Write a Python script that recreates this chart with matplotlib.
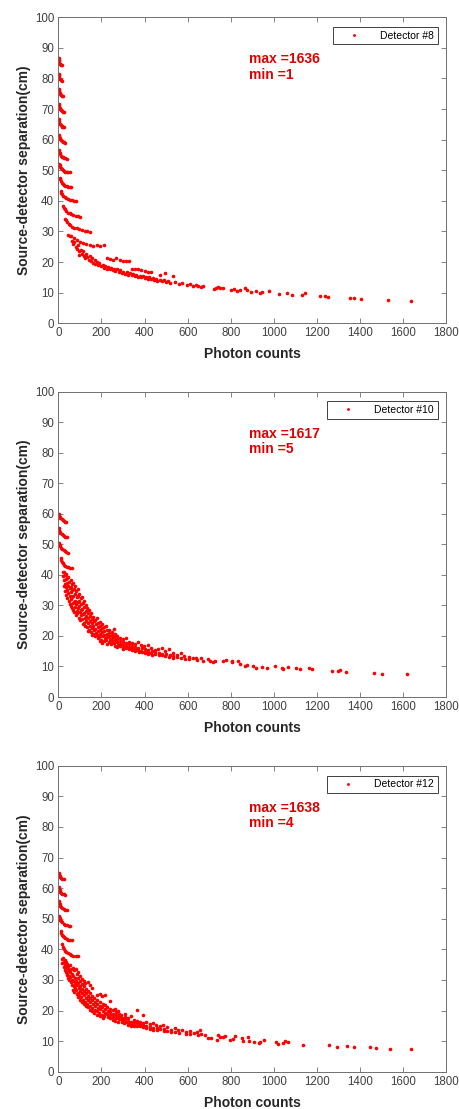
import numpy as np
import matplotlib
matplotlib.use('Agg')
import matplotlib.pyplot as plt

plt.rcParams['font.family'] = ['Liberation Sans', 'DejaVu Sans']

# ---- Detector #8 : [photon counts, separation cm] ----
det8_bands = [
    [1, 86.6], [2, 86.1], [3, 85.6], [5, 85.2], [7, 84.9], [10, 84.6], [13, 84.4], [15, 84.3],
    [1, 81.6], [2, 81.1], [3, 80.7], [5, 80.3], [8, 79.9], [11, 79.6], [14, 79.4], [17, 79.3],
    [1, 76.7], [2, 76.2], [4, 75.8], [6, 75.3], [9, 74.9], [12, 74.6], [16, 74.4], [20, 74.2],
    [1, 71.7], [2, 71.2], [4, 70.7], [7, 70.3], [10, 69.9], [14, 69.6], [18, 69.4], [22, 69.2], [25, 69.1],
    [1, 66.6], [3, 66.1], [5, 65.6], [8, 65.1], [11, 64.8], [15, 64.5], [19, 64.3], [23, 64.1], [26, 64.0],
    [2, 61.6], [4, 61.1], [6, 60.6], [9, 60.1], [12, 59.8], [16, 59.5], [20, 59.3], [25, 59.1], [30, 59.0],
    [3, 56.6], [5, 56.1], [7, 55.6], [10, 55.2], [14, 54.8], [18, 54.5], [23, 54.3], [28, 54.1], [33, 53.9], [38, 53.8],
    [4, 52.2], [6, 51.7], [9, 51.1], [12, 50.7], [16, 50.3], [21, 50.0], [26, 49.8], [32, 49.6], [38, 49.5], [45, 49.4], [52, 49.3],
    [6, 47.6], [8, 47.0], [11, 46.5], [15, 46.0], [20, 45.6], [26, 45.3], [32, 45.0], [39, 44.8], [46, 44.6], [54, 44.5], [60, 44.4],
    [11, 43.3], [14, 42.7], [18, 42.1], [23, 41.6], [29, 41.2], [36, 40.9], [44, 40.6], [53, 40.4], [62, 40.2], [72, 40.1], [83, 40.0],
    [22, 38.4], [26, 37.8], [31, 37.2], [37, 36.7], [44, 36.2], [52, 35.9], [61, 35.6], [70, 35.3], [80, 35.1], [91, 34.9], [102, 34.8],
    [30, 34.2], [35, 33.6], [41, 33.0], [48, 32.5], [56, 32.0], [65, 31.6], [75, 31.3], [86, 31.0], [98, 30.7], [110, 30.5],
    [122, 30.3], [135, 30.1], [147, 29.9],
]
det8_cloud = [
    [45, 29.0], [58, 28.4], [72, 27.8], [86, 27.2], [100, 26.7], [115, 26.2], [130, 25.9], [145, 25.6], [160, 25.4],
    [178, 25.6], [195, 25.3], [212, 25.5], [225, 21.4], [240, 21.0], [255, 20.8], [268, 21.2], [285, 20.6], [300, 20.4],
    [315, 20.5], [330, 20.3], [340, 17.9], [355, 17.6], [370, 17.8], [385, 17.3], [400, 17.1], [415, 16.9], [430, 16.8],
    [470, 15.9], [495, 16.4], [530, 15.6],
    [55, 28.5], [62, 27.0], [68, 25.8], [75, 26.5], [80, 25.0], [88, 24.2], [92, 25.6], [98, 23.5], [98, 22.3],
    [105, 24.0], [110, 22.8], [115, 23.6], [120, 22.0], [125, 21.2], [130, 22.5], [135, 21.6], [140, 20.8], [145, 22.0],
    [150, 20.2], [155, 21.3], [160, 19.8], [168, 20.6], [172, 19.3], [178, 20.0], [185, 18.9], [190, 19.6], [198, 18.6],
    [205, 19.2], [210, 18.2], [218, 18.8], [225, 17.9], [230, 18.5], [238, 17.6], [245, 18.2], [252, 17.3], [258, 17.9],
    [265, 17.0], [272, 17.6], [280, 16.8], [288, 17.3], [295, 16.5], [302, 16.9], [310, 16.2], [318, 16.7], [325, 15.9],
    [332, 16.4], [340, 15.7], [348, 16.0], [355, 15.4], [362, 15.8], [370, 15.2], [378, 15.6], [385, 15.0], [392, 15.4],
    [400, 14.8], [408, 15.2], [415, 14.6], [422, 15.0], [430, 14.4], [438, 14.7], [445, 14.2], [452, 14.5], [460, 13.9],
    [470, 14.2], [480, 13.8], [490, 14.1], [500, 13.5], [510, 13.8],
]
det8_tail = [
    [520, 13.3], [540, 13.6], [560, 12.9], [575, 13.2], [595, 12.4], [610, 12.8], [625, 12.2], [640, 12.6], [650, 12.1],
    [660, 11.8], [672, 12.3], [720, 11.1], [730, 11.6], [740, 12.0], [752, 11.4], [765, 11.6], [800, 10.9], [815, 11.2],
    [830, 10.6], [843, 11.0], [868, 11.5], [875, 10.8], [895, 10.2], [915, 10.4], [935, 9.9], [944, 10.2], [978, 10.4],
    [1022, 9.6], [1060, 10.0], [1084, 9.3], [1132, 9.4], [1146, 9.8], [1216, 8.9], [1238, 8.9], [1250, 8.6],
    [1352, 8.4], [1372, 8.3], [1406, 7.9], [1528, 7.5], [1636, 7.3],
]

# ---- Detector #10 ----
det10_bands = [
    [1, 59.9], [3, 59.4], [6, 59.0], [10, 58.6], [15, 58.2], [20, 57.9], [26, 57.6], [32, 57.4], [37, 57.3],
    [1, 55.2], [3, 54.7], [6, 54.2], [10, 53.7], [15, 53.3], [20, 53.0], [26, 52.7], [32, 52.5], [40, 52.3],
    [4, 50.4], [6, 49.9], [9, 49.4], [13, 48.9], [18, 48.5], [24, 48.1], [30, 47.8], [37, 47.5], [45, 47.3],
    [12, 45.5], [14, 44.9], [17, 44.3], [21, 43.8], [26, 43.4], [32, 43.0], [39, 42.7], [47, 42.5], [56, 42.3], [65, 42.2],
]
det10_cloud = [
    [21, 40.8], [23, 39.5], [25, 41.0], [27, 38.2], [26, 36.5], [29, 39.8], [31, 37.0], [30, 34.8],
    [34, 40.3], [36, 38.5], [35, 36.0], [37, 33.5], [39, 38.9], [41, 37.2], [40, 35.1], [42, 32.4],
    [45, 39.2], [47, 36.4], [46, 34.2], [48, 31.5], [51, 37.8], [53, 35.6], [52, 33.2], [54, 30.6],
    [57, 38.4], [59, 36.0], [58, 34.5], [60, 32.0], [57, 29.8], [63, 37.0], [65, 34.9], [64, 32.6], [66, 30.8], [63, 29.1],
    [69, 37.5], [71, 35.4], [70, 33.0], [72, 31.2], [69, 28.5], [76, 36.2], [78, 33.9], [77, 31.6], [79, 29.6], [75, 27.9],
    [83, 34.8], [85, 32.7], [84, 30.4], [86, 28.3], [82, 26.8], [89, 35.3], [91, 33.0], [90, 31.0], [92, 29.2], [88, 27.4],
    [96, 33.6], [98, 31.5], [97, 29.7], [99, 27.8], [95, 26.0], [103, 32.4], [105, 30.3], [104, 28.6], [106, 26.9], [102, 25.2],
    [111, 32.8], [113, 30.9], [112, 28.9], [114, 27.2], [110, 25.5], [113, 24.0],
    [119, 31.4], [121, 29.5], [120, 27.6], [122, 25.9], [118, 24.4], [127, 30.2], [129, 28.3], [128, 26.5], [130, 24.9], [126, 23.2],
    [135, 29.3], [137, 27.6], [136, 25.8], [138, 24.2], [134, 22.8], [137, 21.5],
    [144, 28.4], [146, 26.6], [145, 25.0], [147, 23.4], [143, 22.1],
    [153, 27.6], [155, 25.7], [154, 24.2], [156, 22.7], [152, 21.3], [155, 20.4],
    [162, 26.3], [164, 24.8], [163, 23.3], [165, 21.9], [161, 20.6], [171, 25.2], [173, 24.0], [172, 22.4], [174, 21.0], [170, 19.9],
    [181, 26.0], [183, 24.3], [182, 22.9], [184, 21.5], [180, 20.3], [183, 19.2],
    [191, 24.6], [193, 23.2], [192, 21.8], [194, 20.6], [190, 19.5], [193, 18.4],
    [201, 23.8], [203, 22.5], [202, 21.2], [204, 20.0], [200, 18.8], [203, 17.8],
    [212, 22.9], [214, 21.6], [213, 20.4], [215, 19.3], [211, 18.3],
    [223, 23.3], [225, 21.9], [224, 20.8], [226, 19.7], [222, 18.6], [225, 17.5],
    [235, 22.1], [237, 20.9], [236, 19.9], [238, 18.9], [234, 17.9], [247, 21.4], [249, 20.2], [248, 19.2], [250, 18.2], [246, 17.2],
    [259, 22.4], [261, 20.6], [260, 19.5], [262, 18.6], [258, 17.6], [261, 16.7],
    [272, 20.0], [274, 19.0], [273, 18.0], [275, 17.1], [271, 16.3], [285, 19.4], [287, 18.4], [286, 17.5], [288, 16.7],
    [299, 18.9], [301, 18.0], [300, 17.1], [302, 16.2], [298, 15.6], [313, 19.3], [315, 17.6], [314, 16.8], [316, 15.9],
    [327, 18.1], [329, 17.2], [328, 16.4], [330, 15.6], [341, 17.7], [343, 16.8], [342, 16.0], [344, 15.3],
    [355, 17.4], [357, 16.5], [356, 15.7], [358, 15.0], [369, 18.0], [371, 16.2], [370, 15.4], [372, 14.8],
    [384, 17.0], [386, 16.0], [385, 15.2], [387, 14.6], [399, 16.6], [401, 15.6], [400, 14.9], [402, 14.3],
    [415, 17.0], [417, 15.3], [416, 14.7], [418, 14.0], [431, 15.9], [433, 15.0], [432, 14.4], [434, 13.8],
    [447, 15.4], [449, 14.7], [448, 14.1], [464, 15.6], [466, 14.4], [465, 13.8], [479, 16.1], [481, 14.2], [480, 13.6],
    [496, 15.2], [498, 14.0], [497, 13.3], [514, 15.8], [516, 13.7], [515, 13.1], [531, 14.5], [533, 13.4], [532, 12.9],
    [549, 13.9], [551, 13.2], [567, 14.3], [569, 12.9], [584, 13.4], [586, 12.6], [604, 13.0], [606, 12.4],
    [624, 12.7], [639, 12.9], [641, 12.2],
]
det10_tail = [
    [661, 12.9], [669, 11.8], [695, 12.4], [703, 11.8], [719, 11.5], [726, 11.7], [765, 11.7], [777, 12.2], [804, 11.5],
    [807, 11.8], [835, 11.7], [843, 10.9], [866, 10.3], [874, 10.5], [905, 10.1], [917, 9.5], [944, 9.8], [970, 9.5],
    [1006, 10.1], [1036, 9.5], [1041, 9.1], [1067, 9.8], [1101, 9.5], [1121, 9.2], [1163, 9.5], [1175, 9.1],
    [1268, 8.5], [1299, 8.6], [1307, 8.8], [1333, 8.3], [1465, 8.0], [1503, 7.6], [1617, 7.5],
]

# ---- Detector #12 ----
det12_bands = [
    [1, 65.0], [3, 64.5], [6, 64.0], [10, 63.6], [14, 63.3], [19, 63.1], [24, 62.9],
    [1, 60.5], [3, 60.0], [6, 59.4], [9, 58.9], [13, 58.5], [18, 58.2], [24, 58.0], [30, 57.8],
    [2, 55.9], [4, 55.3], [7, 54.7], [10, 54.2], [14, 53.8], [19, 53.4], [25, 53.1], [31, 52.9], [38, 52.7],
    [5, 50.9], [7, 50.3], [10, 49.7], [14, 49.2], [19, 48.8], [25, 48.4], [32, 48.1], [40, 47.9], [48, 47.7], [54, 47.6],
    [12, 46.0], [14, 45.4], [17, 44.8], [21, 44.3], [26, 43.9], [32, 43.6], [39, 43.3], [47, 43.1], [55, 43.0], [62, 42.9],
    [19, 41.6], [22, 40.9], [26, 40.2], [31, 39.6], [37, 39.1], [44, 38.7], [52, 38.4], [61, 38.1], [70, 37.9], [80, 37.8], [89, 37.7],
]
det12_cloud = [
    [17, 36.8], [19, 35.6], [23, 37.2], [25, 35.9], [24, 34.3], [29, 36.4], [31, 34.9], [30, 33.4],
    [35, 35.8], [37, 34.2], [36, 32.7], [38, 31.5], [41, 35.2], [43, 33.6], [42, 32.1], [44, 30.6],
    [47, 34.6], [49, 33.0], [48, 31.4], [50, 29.9], [54, 34.9], [56, 32.5], [55, 30.8], [57, 29.2],
    [61, 33.6], [63, 31.8], [62, 30.1], [64, 28.5], [68, 34.0], [70, 31.2], [69, 29.6], [71, 28.0], [67, 26.8],
    [75, 33.2], [77, 30.6], [76, 29.0], [78, 27.4], [74, 26.1], [83, 33.7], [85, 31.9], [84, 29.8], [86, 28.2], [82, 26.7], [85, 25.3],
    [91, 32.6], [93, 30.5], [92, 28.9], [94, 27.3], [90, 25.8], [93, 24.4], [99, 31.4], [101, 29.6], [100, 28.1], [102, 26.5], [98, 25.0], [101, 23.6],
    [108, 30.4], [110, 28.7], [109, 27.2], [111, 25.7], [107, 24.3], [110, 22.9], [117, 29.6], [119, 27.9], [118, 26.4], [120, 25.0], [116, 23.6], [119, 22.3],
    [126, 28.9], [128, 27.1], [127, 25.6], [129, 24.2], [125, 22.9], [128, 21.6], [136, 29.2], [138, 26.3], [137, 24.9], [139, 23.5], [135, 22.2], [138, 21.0],
    [146, 28.4], [148, 25.6], [147, 24.2], [149, 22.8], [145, 21.5], [148, 20.3], [156, 27.5], [158, 24.8], [157, 23.5], [159, 22.1], [155, 20.9], [158, 19.7],
    [167, 24.2], [169, 22.8], [168, 21.5], [170, 20.3], [166, 19.2], [179, 25.0], [181, 23.5], [180, 22.2], [182, 20.9], [178, 19.7], [181, 18.6],
    [191, 25.3], [193, 22.9], [192, 21.6], [194, 20.4], [190, 19.2], [193, 18.1], [203, 24.9], [205, 22.3], [204, 21.0], [206, 19.8], [202, 18.7], [205, 17.7],
    [215, 25.1], [217, 21.7], [216, 20.4], [218, 19.3], [214, 18.2], [227, 21.2], [229, 19.9], [228, 18.8], [230, 17.8],
    [239, 23.1], [241, 20.6], [240, 19.4], [242, 18.4], [238, 17.4], [252, 20.1], [254, 19.0], [253, 18.0], [255, 17.0],
    [265, 20.4], [267, 19.5], [266, 18.5], [268, 17.6], [264, 16.7], [279, 19.8], [281, 18.9], [280, 18.0], [282, 17.2], [278, 16.4],
    [293, 18.4], [295, 17.6], [294, 16.8], [296, 16.1], [307, 19.0], [309, 17.9], [308, 17.1], [310, 16.4], [306, 15.8],
    [321, 17.5], [323, 16.7], [322, 16.0], [324, 15.4], [335, 18.2], [337, 16.4], [336, 15.7], [338, 15.1],
    [349, 17.0], [351, 16.1], [350, 15.4], [352, 14.8], [363, 20.1], [365, 16.6], [364, 15.8], [366, 15.1],
    [377, 16.2], [379, 15.5], [378, 14.8], [391, 18.4], [393, 15.9], [392, 15.2], [394, 14.5],
    [407, 16.4], [409, 15.0], [408, 14.3], [423, 15.6], [425, 14.7], [424, 14.0], [439, 15.9], [441, 14.4], [440, 13.8],
    [455, 15.2], [457, 14.2], [456, 13.6], [471, 14.8], [473, 13.9], [487, 15.4], [489, 14.1], [488, 13.4],
    [504, 14.6], [506, 13.2], [521, 13.8], [523, 13.0], [539, 14.3], [541, 12.9], [557, 13.5], [559, 12.7],
    [575, 13.8], [591, 13.0], [593, 12.4], [609, 13.2], [611, 12.3], [628, 12.6], [644, 12.9], [646, 12.0],
]
det12_tail = [
    [656, 13.5], [664, 12.2], [679, 11.9], [695, 11.1], [710, 10.9], [734, 10.5], [741, 12.0], [749, 11.3], [764, 11.3],
    [772, 11.7], [795, 10.5], [808, 10.8], [819, 11.6], [854, 10.9], [856, 10.0], [880, 11.3], [885, 9.9], [908, 9.8],
    [931, 9.5], [937, 9.8], [953, 10.3], [1009, 9.8], [1019, 9.2], [1043, 9.5], [1050, 10.0], [1066, 9.8], [1135, 8.9],
    [1254, 8.8], [1294, 8.1], [1339, 8.5], [1370, 8.1], [1444, 8.0], [1472, 7.8], [1537, 7.5], [1638, 7.4],
]

detector_names = ['Detector #8', 'Detector #10', 'Detector #12']
max_counts = [1636, 1617, 1638]
min_counts = [1, 5, 4]
x_ticks = list(range(0, 1801, 200))
y_ticks = list(range(0, 101, 10))


def draw_panel(ax, parts, name, vmax, vmin):
    pts = np.array(parts[0] + parts[1] + parts[2])
    ax.plot(pts[:, 0], pts[:, 1], linestyle='none', marker='o', markersize=2.6,
            markeredgewidth=0, color='red', label=name)
    ax.set_xlim(0, 1800)
    ax.set_ylim(0, 100)
    ax.set_xticks(x_ticks)
    ax.set_yticks(y_ticks)
    ax.tick_params(direction='in', top=True, right=True, length=3.5, width=0.6,
                   labelsize=8.3, colors='#707070', labelcolor='#404040', pad=3)
    for s in ax.spines.values():
        s.set_color('#707070')
        s.set_linewidth(0.7)
    ax.set_xlabel('Photon counts', fontsize=10, fontweight='bold', color='#262626')
    ax.set_ylabel('Source-detector separation(cm)', fontsize=10, fontweight='bold', color='#262626')
    ax.xaxis.set_label_coords(0.5, -0.078)
    ax.yaxis.set_label_coords(-0.07, 0.5)
    ax.text(886, 88.6, f'max ={vmax}\nmin ={vmin}', color='#e00000', fontsize=10,
            fontweight='bold', va='top', ha='left', linespacing=1.15)
    leg = ax.legend(loc='upper right', bbox_to_anchor=(0.9775, 0.968), borderaxespad=0,
                    fontsize=7.5, fancybox=False, framealpha=1, edgecolor='#404040',
                    handlelength=3.3, handletextpad=0.9, borderpad=0.35, markerscale=0.8)
    leg.get_frame().set_linewidth(0.7)


fig = plt.figure(figsize=(4.6, 11.09), dpi=100)
positions = [[0.1268, 0.7085, 0.8435, 0.2759],
             [0.1268, 0.3715, 0.8435, 0.2753],
             [0.1268, 0.0336, 0.8435, 0.2759]]
data = [(det8_bands, det8_cloud, det8_tail),
        (det10_bands, det10_cloud, det10_tail),
        (det12_bands, det12_cloud, det12_tail)]

for i in range(3):
    ax = fig.add_axes(positions[i])
    draw_panel(ax, data[i], detector_names[i], max_counts[i], min_counts[i])

plt.savefig('out.png', dpi=100)
